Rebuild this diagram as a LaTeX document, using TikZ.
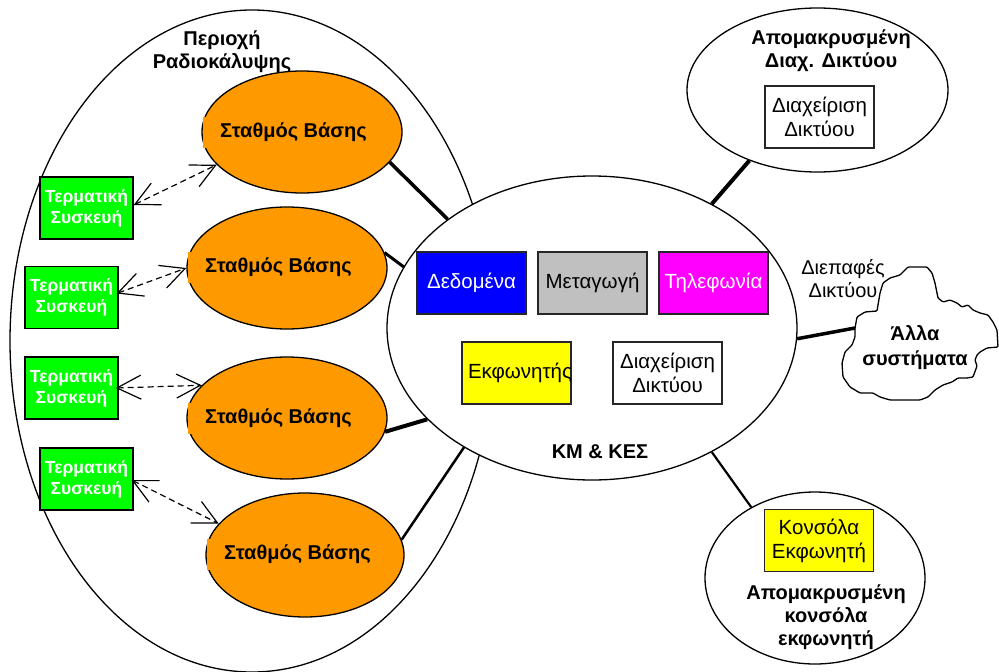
\documentclass[tikz,border=0pt]{standalone}
\usepackage{fontspec}
\setmainfont{Liberation Sans}
\usetikzlibrary{shapes.geometric,arrows.meta}
\definecolor{bsorange}{HTML}{FF9900}
\definecolor{tgreen}{HTML}{00FF00}
\definecolor{silverg}{HTML}{C0C0C0}
\definecolor{magentaf}{HTML}{FF00FF}
\definecolor{bluef}{HTML}{0000FF}
\definecolor{yellowf}{HTML}{FFFF00}
\begin{document}
\begin{tikzpicture}[x=1pt,y=-1pt,
  outl/.style={ellipse, draw=black, line width=1.3pt, fill=white, inner sep=0pt},
  bsell/.style={ellipse, draw=black, line width=1.3pt, fill=bsorange, minimum width=200pt, minimum height=122pt, inner sep=0pt},
  bstext/.style={fill=bsorange, anchor=west, inner xsep=17pt, inner ysep=0pt, minimum height=31pt, font=\fontsize{20}{22}\selectfont\bfseries},
  term/.style={draw=black, line width=1.3pt, fill=tgreen, minimum width=93pt, minimum height=62pt, inner sep=0pt, text=white, align=center, font=\fontsize{17.5}{21}\selectfont\bfseries},
  inbox/.style={draw=black!85, line width=1.3pt, minimum width=109pt, minimum height=62pt, inner sep=0pt, align=center, font=\fontsize{20.5}{24}\selectfont},
  btitle/.style={align=center, inner sep=0pt, font=\fontsize{20}{23}\selectfont\bfseries},
  ntitle/.style={align=center, inner sep=0pt, font=\fontsize{20}{23}\selectfont},
  darrow/.style={dash pattern=on 6pt off 4pt, line width=1.2pt, {Straight Barb[length=24pt,width=24pt]}-{Straight Barb[length=24pt,width=24pt]}},
  conn/.style={line width=#1},
]
\useasboundingbox (0,0) rectangle (999,672);

% coverage area
\node[outl, fill=none, minimum width=484pt, minimum height=662pt] (cov) at (252,341) {};
\node[btitle] (covlbl) at (222,52) {Περιοχή\\Ραδιοκάλυψης};

% base stations
\node[bsell] (bs1) at (302,132) {};
\node[bstext] (bs1t) at (203,132) {Σταθμός Βάσης};
\node[bsell] (bs2) at (287,268) {};
\node[bstext] (bs2t) at (188,267) {Σταθμός Βάσης};
\node[bsell] (bs3) at (287,418) {};
\node[bstext] (bs3t) at (188,418) {Σταθμός Βάσης};
\node[bsell, minimum width=198pt, minimum height=124pt] (bs4) at (305,555) {};
\node[bstext] (bs4t) at (207,554) {Σταθμός Βάσης};

% terminals
\node[term] (t1) at (86.5,208) {Τερματική\\Συσκευή};
\node[term] (t2) at (71.5,297.5) {Τερματική\\Συσκευή};
\node[term] (t3) at (71.5,388) {Τερματική\\Συσκευή};
\node[term] (t4) at (86.5,479) {Τερματική\\Συσκευή};

\draw[darrow] ([yshift=3pt]t1.east) -- (bs1.201);
\draw[darrow] ([xshift=-2pt,yshift=4pt]t2.east) -- (bs2.180);
\draw[darrow] ([xshift=-3pt]t3.east) -- (bs3.159);
\draw[darrow] ([xshift=-2pt,yshift=-1pt]t4.east) -- (bs4.160);

% central node
\node[outl, minimum width=410pt, minimum height=304pt] (km) at (592,328) {};
\node[inbox, fill=bluef, text=white] (data) at (471.5,283) {Δεδομένα};
\node[inbox, fill=silverg] (sw) at (592.5,283) {Μεταγωγή};
\node[inbox, fill=magentaf, text=white] (tel) at (713.5,283) {Τηλεφωνία};
\node[inbox, fill=yellowf] (disp) at (516.5,373) {};
\node[inner sep=0pt, font=\fontsize{20.5}{24}\selectfont] (dispt) at (520,373) {Εκφωνητής};
\node[inbox, fill=white] (nm) at (667.5,373) {Διαχείριση\\Δικτύου};
\node[btitle] (kmlbl) at (600,452) {ΚΜ \& ΚΕΣ};

% base station links
\draw[conn=3.5pt] (bs1.-19) -- (km.143.6);
\draw[conn=3pt] (bs2.9) -- (km.162);
\draw[conn=4pt] (bs3.-8) -- (km.209);
\draw[conn=2.5pt] (bs4.9) -- (km.223.4);

% remote network management
\node[outl, minimum width=261pt, minimum height=164pt] (rnm) at (817.5,90) {};
\node[btitle] (rnmlbl) at (831,51) {Απομακρυσμένη\\Διαχ. Δικτύου};
\node[inbox, fill=white] (rnmbox) at (819.5,117) {Διαχείριση\\Δικτύου};
\draw[conn=4pt] (km.46.7) -- (rnm.226.8);

% remote console
\node[outl, minimum width=220pt, minimum height=172pt] (con) at (815,578) {};
\node[inbox, fill=yellowf] (conbox) at (819,540.5) {Κονσόλα\\Εκφωνητή};
\node[btitle] (conlbl) at (826,617) {Απομακρυσμένη\\κονσόλα\\εκφωνητή};
\draw[conn=2.2pt] (km.-46.7) -- (con.132.4);

% other systems cloud
\coordinate (cloudL) at (855,328);
\draw[line width=1.3pt, fill=white, rounded corners=1pt]
  (cloudL) -- (857,317) -- (865,312) -- (877,311) -- (880,293) -- (883,283) -- (890,278)
  -- (900,275) -- (905,270) -- (908,267) -- (927,267) -- (932,273) -- (935,283) -- (938,298)
  -- (943,302) -- (950,300) -- (957,303) -- (962,307) -- (968,305) -- (973,310) -- (980,313)
  -- (988,315) -- (993,322) -- (997,330) -- (998,347) -- (987,348) -- (980,352) -- (977,355)
  -- (975,360) -- (977,366) -- (973,377) -- (967,378) -- (958,378) -- (952,382) -- (943,385)
  -- (935,390) -- (928,397) -- (920,400) -- (890,400) -- (880,397) -- (873,393) -- (860,393)
  -- (850,387) -- (843,377) -- (842,363) -- (845,352) -- (852,345) -- (855,337) -- cycle;
\node[ntitle] (ifl) at (843,278.5) {Διεπαφές\\Δικτύου};
\node[btitle, font=\fontsize{20}{25}\selectfont\bfseries] (cloudt) at (915,347.5) {Άλλα\\συστήματα};
\draw[conn=3.5pt] (km.-3.4) -- (cloudL);
\end{tikzpicture}
\end{document}
